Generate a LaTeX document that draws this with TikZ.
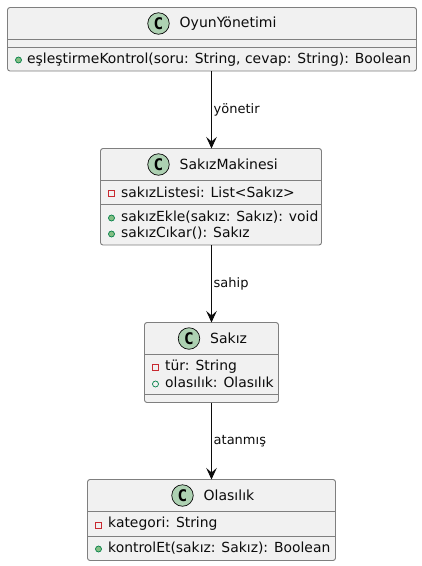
\documentclass[tikz,border=0pt]{standalone}
\usepackage{fontspec}
\setmainfont{DejaVu Sans}
\newfontfamily\spotfont{DejaVu Sans Mono}
\usetikzlibrary{arrows.meta}
\definecolor{boxfill}{HTML}{F1F1F1}
\definecolor{boxline}{HTML}{7F7F7F}
\definecolor{spotc}{HTML}{ADD1B2}
\definecolor{pubg}{HTML}{038048}
\definecolor{pubf}{HTML}{84BE84}
\definecolor{privr}{HTML}{C82930}
\definecolor{txt}{HTML}{0C0C0C}
\tikzset{
 x=1pt,y=-1pt,
 umlbox/.style={draw=boxline,fill=boxfill,line width=0.9pt,rounded corners=2.5pt,inner sep=0,outer sep=0,anchor=north west},
 sep/.style={draw=boxline,line width=0.9pt},
 spot/.style={circle,draw=txt,fill=spotc,line width=0.7pt,minimum size=21.5pt,inner sep=0,font=\fontsize{16}{16}\spotfont\bfseries\selectfont,text=black},
 title/.style={anchor=west,inner sep=0,text=txt,font=\fontsize{14}{15}\selectfont},
 member/.style={anchor=west,inner sep=0,text=txt,font=\fontsize{13.9}{15}\selectfont},
 lbl/.style={anchor=west,inner sep=0,text=txt,font=\fontsize{13}{14}\selectfont},
 pubm/.style={circle,draw=pubg,fill=pubf,line width=0.7pt,minimum size=6pt,inner sep=0},
 pubo/.style={circle,draw=pubg,fill=none,line width=0.7pt,minimum size=6pt,inner sep=0},
 privo/.style={rectangle,draw=privr,fill=none,line width=0.7pt,minimum size=6pt,inner sep=0},
 conn/.style={draw=txt,line width=0.9pt,-{Stealth[length=11.5pt,width=10.5pt,inset=4.5pt,fill=txt]}},
}
\begin{document}
\begin{tikzpicture}
\useasboundingbox (0,0) rectangle (422,566);
% boxes
\node[umlbox,minimum width=409pt,minimum height=63.5pt] (oyun) at (7.5,7.5) {};
\node[umlbox,minimum width=221pt,minimum height=96.5pt] (makine) at (100.5,148.5) {};
\node[umlbox,minimum width=134pt,minimum height=80pt] (sakiz) at (144.5,322.5) {};
\node[umlbox,minimum width=248pt,minimum height=81pt] (olasilik) at (87.5,479.5) {};
% dividers
\draw[sep] (7.5,39.5) -- (416.5,39.5) (7.5,47.5) -- (416.5,47.5);
\draw[sep] (100.5,180.5) -- (321.5,180.5) (100.5,204.5) -- (321.5,204.5);
\draw[sep] (144.5,354.5) -- (278.5,354.5) (144.5,394.5) -- (278.5,394.5);
\draw[sep] (87.5,511.5) -- (335.5,511.5) (87.5,536.5) -- (335.5,536.5);
% OyunYonetimi
\node[spot] (s1) at (158.5,23.5) {C};
\node[title] (t1) at (179.5,23.5) {OyunYönetimi};
\node[pubm] (m1a) at (18.5,60) {};
\node[member] (m1) at (27,59.5) {eşleştirmeKontrol(soru: String, cevap: String): Boolean};
% SakizMakinesi
\node[spot] (s2) at (158.5,164.5) {C};
\node[title] (t2) at (179.5,164.5) {SakızMakinesi};
\node[privo] (m2a) at (111.5,193) {};
\node[member] (m2) at (121,192.5) {sakızListesi: List<Sakız>};
\node[pubm] (m3a) at (111.5,218) {};
\node[member] (m3) at (121,217) {sakızEkle(sakız: Sakız): void};
\node[pubm] (m4a) at (111.5,234) {};
\node[member] (m4) at (121,233.5) {sakızCıkar(): Sakız};
% Sakiz
\node[spot] (s3) at (189,338.5) {C};
\node[title] (t3) at (210,338.5) {Sakız};
\node[privo] (m5a) at (155.5,367) {};
\node[member] (m5) at (165,366.5) {tür: String};
\node[pubo] (m6a) at (155.5,384) {};
\node[member] (m6) at (165,382.5) {olasılık: Olasılık};
% Olasilik
\node[spot] (s4) at (182.5,495.5) {C};
\node[title] (t4) at (203.5,495.5) {Olasılık};
\node[privo] (m7a) at (98.5,525) {};
\node[member] (m7) at (108,524) {kategori: String};
\node[pubm] (m8a) at (98.5,549) {};
\node[member] (m8) at (108,548.5) {kontrolEt(sakız: Sakız): Boolean};
% connectors (kept vertical on the common axis through the Sakız box)
\draw[conn] (sakiz.north |- oyun.south) -- (sakiz.north |- makine.north);
\draw[conn] (sakiz.north |- makine.south) -- (sakiz.north);
\draw[conn] (sakiz.south) -- (sakiz.south |- olasilik.north);
\node[lbl] (l1) at (213.5,109.5) {yönetir};
\node[lbl] (l2) at (213.5,283.5) {sahip};
\node[lbl] (l3) at (213.5,441.5) {atanmış};
\end{tikzpicture}
\end{document}
